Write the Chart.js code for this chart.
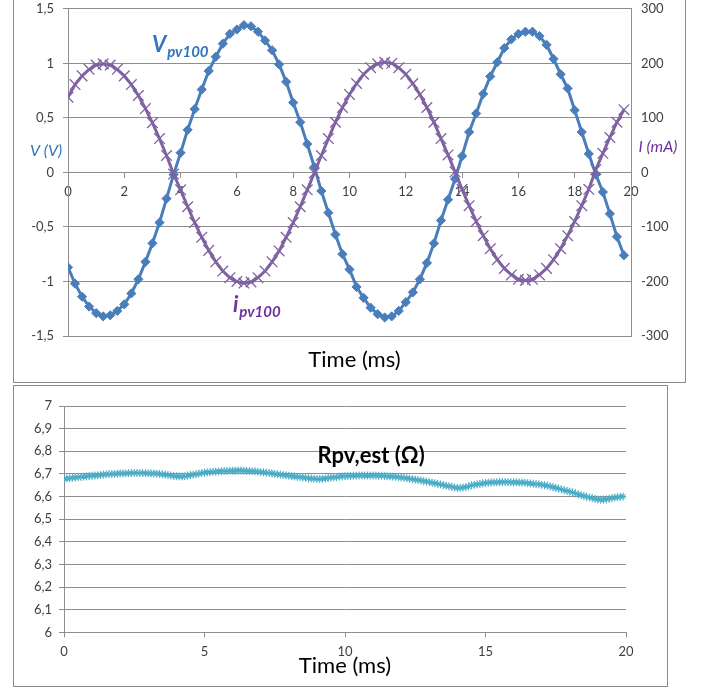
<!DOCTYPE html>
<html>
<head>
<meta charset="utf-8">
<script src="https://cdn.jsdelivr.net/npm/chart.js@4.4.0/dist/chart.umd.min.js"></script>
<style>
  html, body { margin: 0; padding: 0; background: #fff; }
  body { width: 702px; height: 687px; position: relative; overflow: hidden; }
  .frame { position: absolute; box-sizing: border-box; border: 1px solid #8c8c8c; background: #fff; }
  #topFrame { left: 13px; top: -1px; width: 673px; height: 384px; }
  #bottomFrame { left: 13px; top: 385px; width: 655px; height: 302px; }
  canvas { display: block; }
</style>
</head>
<body>
<div class="frame" id="topFrame"><canvas id="topChart" width="671" height="382"></canvas></div>
<div class="frame" id="bottomFrame"><canvas id="bottomChart" width="653" height="300"></canvas></div>
<script>
// sampling steps (ms)
const tStepTop = 0.25;
const tStepR = 0.1;

// V_pv100 (V), one value every 0.25 ms
const vPv100 = [
	-0.87, -1.02, -1.14, -1.23, -1.29, -1.32, -1.31, -1.27,
	-1.21, -1.11, -0.98, -0.82, -0.65, -0.46, -0.24, -0.02,
	0.18, 0.39, 0.58, 0.76, 0.93, 1.06, 1.18, 1.27,
	1.31, 1.35, 1.34, 1.29, 1.21, 1.12, 0.99, 0.83,
	0.64, 0.46, 0.26, 0.05, -0.17, -0.37, -0.57, -0.75,
	-0.89, -1.05, -1.15, -1.24, -1.30, -1.33, -1.32, -1.27,
	-1.19, -1.10, -0.98, -0.83, -0.65, -0.44, -0.25, -0.06,
	0.15, 0.37, 0.54, 0.72, 0.88, 1.01, 1.14, 1.22,
	1.27, 1.29, 1.29, 1.25, 1.17, 1.04, 0.90, 0.77,
	0.57, 0.37, 0.17, -0.02, -0.18, -0.38, -0.59, -0.76,
];

// i_pv100 (mA), one value every 0.25 ms
const iPv100 = [
	138, 161, 177, 189, 197, 199, 197, 189,
	177, 161, 141, 117, 91, 62, 31, -3,
	-32, -63, -92, -119, -143, -164, -181, -193,
	-200, -203, -201, -193, -181, -164, -144, -119,
	-92, -63, -32, -1, 31, 62, 92, 119,
	143, 163, 180, 192, 199, 202, 200, 192,
	180, 163, 143, 119, 92, 62, 32, 1,
	-31, -61, -90, -116, -140, -160, -176, -188,
	-196, -198, -196, -188, -176, -160, -140, -116,
	-90, -61, -31, 5, 35, 64, 92, 115,
];

// Rpv,est (ohm), one value every 0.1 ms
const rPvEst = [
	6.678, 6.680, 6.681, 6.683, 6.684, 6.685, 6.687, 6.688, 6.689, 6.691,
	6.692, 6.693, 6.694, 6.695, 6.697, 6.698, 6.699, 6.700, 6.700, 6.701,
	6.702, 6.702, 6.703, 6.703, 6.704, 6.704, 6.704, 6.704, 6.704, 6.703,
	6.703, 6.702, 6.702, 6.701, 6.700, 6.698, 6.697, 6.695, 6.693, 6.691,
	6.690, 6.689, 6.689, 6.690, 6.692, 6.695, 6.697, 6.699, 6.701, 6.704,
	6.706, 6.707, 6.708, 6.709, 6.710, 6.711, 6.712, 6.713, 6.713, 6.714,
	6.714, 6.714, 6.715, 6.715, 6.714, 6.713, 6.713, 6.712, 6.711, 6.710,
	6.708, 6.707, 6.705, 6.704, 6.702, 6.700, 6.699, 6.697, 6.695, 6.694,
	6.692, 6.690, 6.689, 6.687, 6.686, 6.684, 6.683, 6.681, 6.680, 6.679,
	6.678, 6.678, 6.679, 6.680, 6.682, 6.684, 6.685, 6.686, 6.688, 6.689,
	6.690, 6.691, 6.691, 6.692, 6.692, 6.693, 6.693, 6.693, 6.693, 6.693,
	6.693, 6.693, 6.692, 6.692, 6.691, 6.690, 6.689, 6.688, 6.687, 6.686,
	6.684, 6.683, 6.681, 6.679, 6.677, 6.675, 6.673, 6.671, 6.668, 6.666,
	6.664, 6.661, 6.659, 6.656, 6.654, 6.651, 6.648, 6.646, 6.643, 6.640,
	6.638, 6.638, 6.640, 6.642, 6.645, 6.650, 6.652, 6.654, 6.656, 6.658,
	6.660, 6.661, 6.662, 6.663, 6.663, 6.664, 6.664, 6.664, 6.664, 6.663,
	6.663, 6.663, 6.662, 6.662, 6.661, 6.659, 6.658, 6.657, 6.655, 6.654,
	6.652, 6.650, 6.648, 6.645, 6.642, 6.638, 6.635, 6.632, 6.628, 6.625,
	6.622, 6.618, 6.614, 6.610, 6.606, 6.602, 6.599, 6.596, 6.593, 6.590,
	6.587, 6.586, 6.587, 6.588, 6.590, 6.594, 6.596, 6.597, 6.599, 6.600,
];

const blue = "#4a7ebb";
const purple = "#7e62a1";
const aqua = "#4bacc6";
const gridGray = "#8e8e8e";
const tickColor = "#404040";
const FONT = "Lato";

const commaFormat = (v) => (Math.round(v * 10) / 10).toString().replace(".", ",");

const toPoints = (values, step) => values.map((v, i) => ({ x: i * step, y: v }));

// fixed width, and no extra room asked for the end labels
const fixWidth = (w) => (s) => {
	s.width = w;
	s.paddingTop = 0;
	s.paddingBottom = 0;
};

const drawText = (ctx, text, x, y, font, color) => {
	ctx.save();
	ctx.font = font;
	ctx.fillStyle = color;
	ctx.textAlign = "center";
	ctx.textBaseline = "middle";
	ctx.fillText(text, x, y);
	ctx.restore();
};

// big italic letter with subscript, e.g. V_pv100
const drawSubLabel = (ctx, main, sub, x, y, color) => {
	ctx.save();
	ctx.fillStyle = color;
	ctx.textAlign = "left";
	ctx.textBaseline = "alphabetic";
	ctx.font = `italic bold 22px ${FONT}`;
	ctx.fillText(main, x, y);
	const w = ctx.measureText(main).width;
	ctx.font = `italic bold 15px ${FONT}`;
	ctx.fillText(sub, x + w + 1, y + 5);
	ctx.restore();
};

const topLabels = {
	id: "topLabels",
	afterDraw(chart) {
		const { ctx, chartArea, scales } = chart;
		drawSubLabel(ctx, "V", "pv100", scales.x.getPixelForValue(2.98), scales.y.getPixelForValue(1.1), "#2f75bf");
		drawSubLabel(ctx, "i", "pv100", scales.x.getPixelForValue(5.86), scales.y.getPixelForValue(-1.28), "#7030a0");
		drawText(ctx, "V (V)", chartArea.left - 22, scales.y.getPixelForValue(0.2), `italic 16px ${FONT}`, "#2f75bf");
		drawText(ctx, "I (mA)", chartArea.right + 27, scales.y1.getPixelForValue(47), `italic 16px ${FONT}`, "#7030a0");
		drawText(ctx, "Time (ms)", (chartArea.left + chartArea.right) / 2 + 5, chartArea.bottom + 24, `22px ${FONT}`, "#000");
	},
};

const bottomLabels = {
	id: "bottomLabels",
	afterDraw(chart) {
		const { ctx, chartArea, scales } = chart;
		drawText(ctx, "Rpv,est (Ω)", scales.x.getPixelForValue(10.93), scales.y.getPixelForValue(6.78), `bold 22px ${FONT}`, "#000");
		drawText(ctx, "Time (ms)", (chartArea.left + chartArea.right) / 2, chartArea.bottom + 34, `22px ${FONT}`, "#000");
	},
};

new Chart(document.getElementById("topChart").getContext("2d"), {
	type: "line",
	data: {
		datasets: [
			{
				label: "ipv100",
				data: toPoints(iPv100, tStepTop),
				yAxisID: "y1",
				borderColor: purple,
				backgroundColor: purple,
				borderWidth: 3,
				pointStyle: "crossRot",
				pointRadius: 7.5,
				pointBorderWidth: 1.3,
				pointBorderColor: purple,
			},
			{
				label: "Vpv100",
				data: toPoints(vPv100, tStepTop),
				yAxisID: "y",
				borderColor: blue,
				backgroundColor: blue,
				borderWidth: 3,
				pointStyle: "rectRot",
				pointRadius: 4.6,
				pointBorderWidth: 1,
				pointBackgroundColor: blue,
				pointBorderColor: blue,
			},
		],
	},
	options: {
		responsive: false,
		animation: false,
		layout: { padding: { top: 8, bottom: 46, left: 0, right: 0 } },
		plugins: { legend: { display: false }, tooltip: { enabled: false } },
		scales: {
			x: {
				type: "linear",
				min: 0,
				max: 20,
				position: { y: 0 },
				ticks: { stepSize: 2, padding: 7, color: tickColor, font: { family: FONT, size: 13 } },
				grid: { drawOnChartArea: false, drawTicks: true, tickLength: 5, color: gridGray },
				border: { color: gridGray },
			},
			y: {
				position: "left",
				min: -1.5,
				max: 1.5,
				ticks: { stepSize: 0.5, padding: 9, color: tickColor, font: { family: FONT, size: 13 }, callback: commaFormat },
				grid: { color: gridGray, tickLength: 5 },
				border: { color: gridGray },
				afterFit: fixWidth(54),
			},
			y1: {
				position: "right",
				min: -300,
				max: 300,
				ticks: { stepSize: 100, padding: 10, color: tickColor, font: { family: FONT, size: 13 } },
				grid: { drawOnChartArea: false, drawTicks: false },
				border: { color: gridGray },
				afterFit: fixWidth(54),
			},
		},
	},
	plugins: [topLabels],
});

new Chart(document.getElementById("bottomChart").getContext("2d"), {
	type: "line",
	data: {
		datasets: [
			{
				label: "Rpv,est",
				data: toPoints(rPvEst, tStepR),
				borderColor: aqua,
				backgroundColor: aqua,
				borderWidth: 2.5,
				pointStyle: "star",
				pointRadius: 4,
				pointBorderWidth: 1,
				pointBorderColor: aqua,
			},
		],
	},
	options: {
		responsive: false,
		animation: false,
		layout: { padding: { top: 20, bottom: 19, left: 0, right: 41 } },
		plugins: { legend: { display: false }, tooltip: { enabled: false } },
		scales: {
			x: {
				type: "linear",
				min: 0,
				max: 20,
				ticks: { stepSize: 5, padding: 7, color: tickColor, font: { family: FONT, size: 13 } },
				grid: { drawOnChartArea: false, drawTicks: true, tickLength: 5, color: gridGray },
				border: { color: gridGray },
			},
			y: {
				min: 6,
				max: 7,
				ticks: { stepSize: 0.1, padding: 7, color: tickColor, font: { family: FONT, size: 13 }, callback: commaFormat },
				grid: { color: gridGray, tickLength: 5 },
				border: { color: gridGray },
				afterFit: fixWidth(50),
			},
		},
	},
	plugins: [bottomLabels],
});
</script>
</body>
</html>
